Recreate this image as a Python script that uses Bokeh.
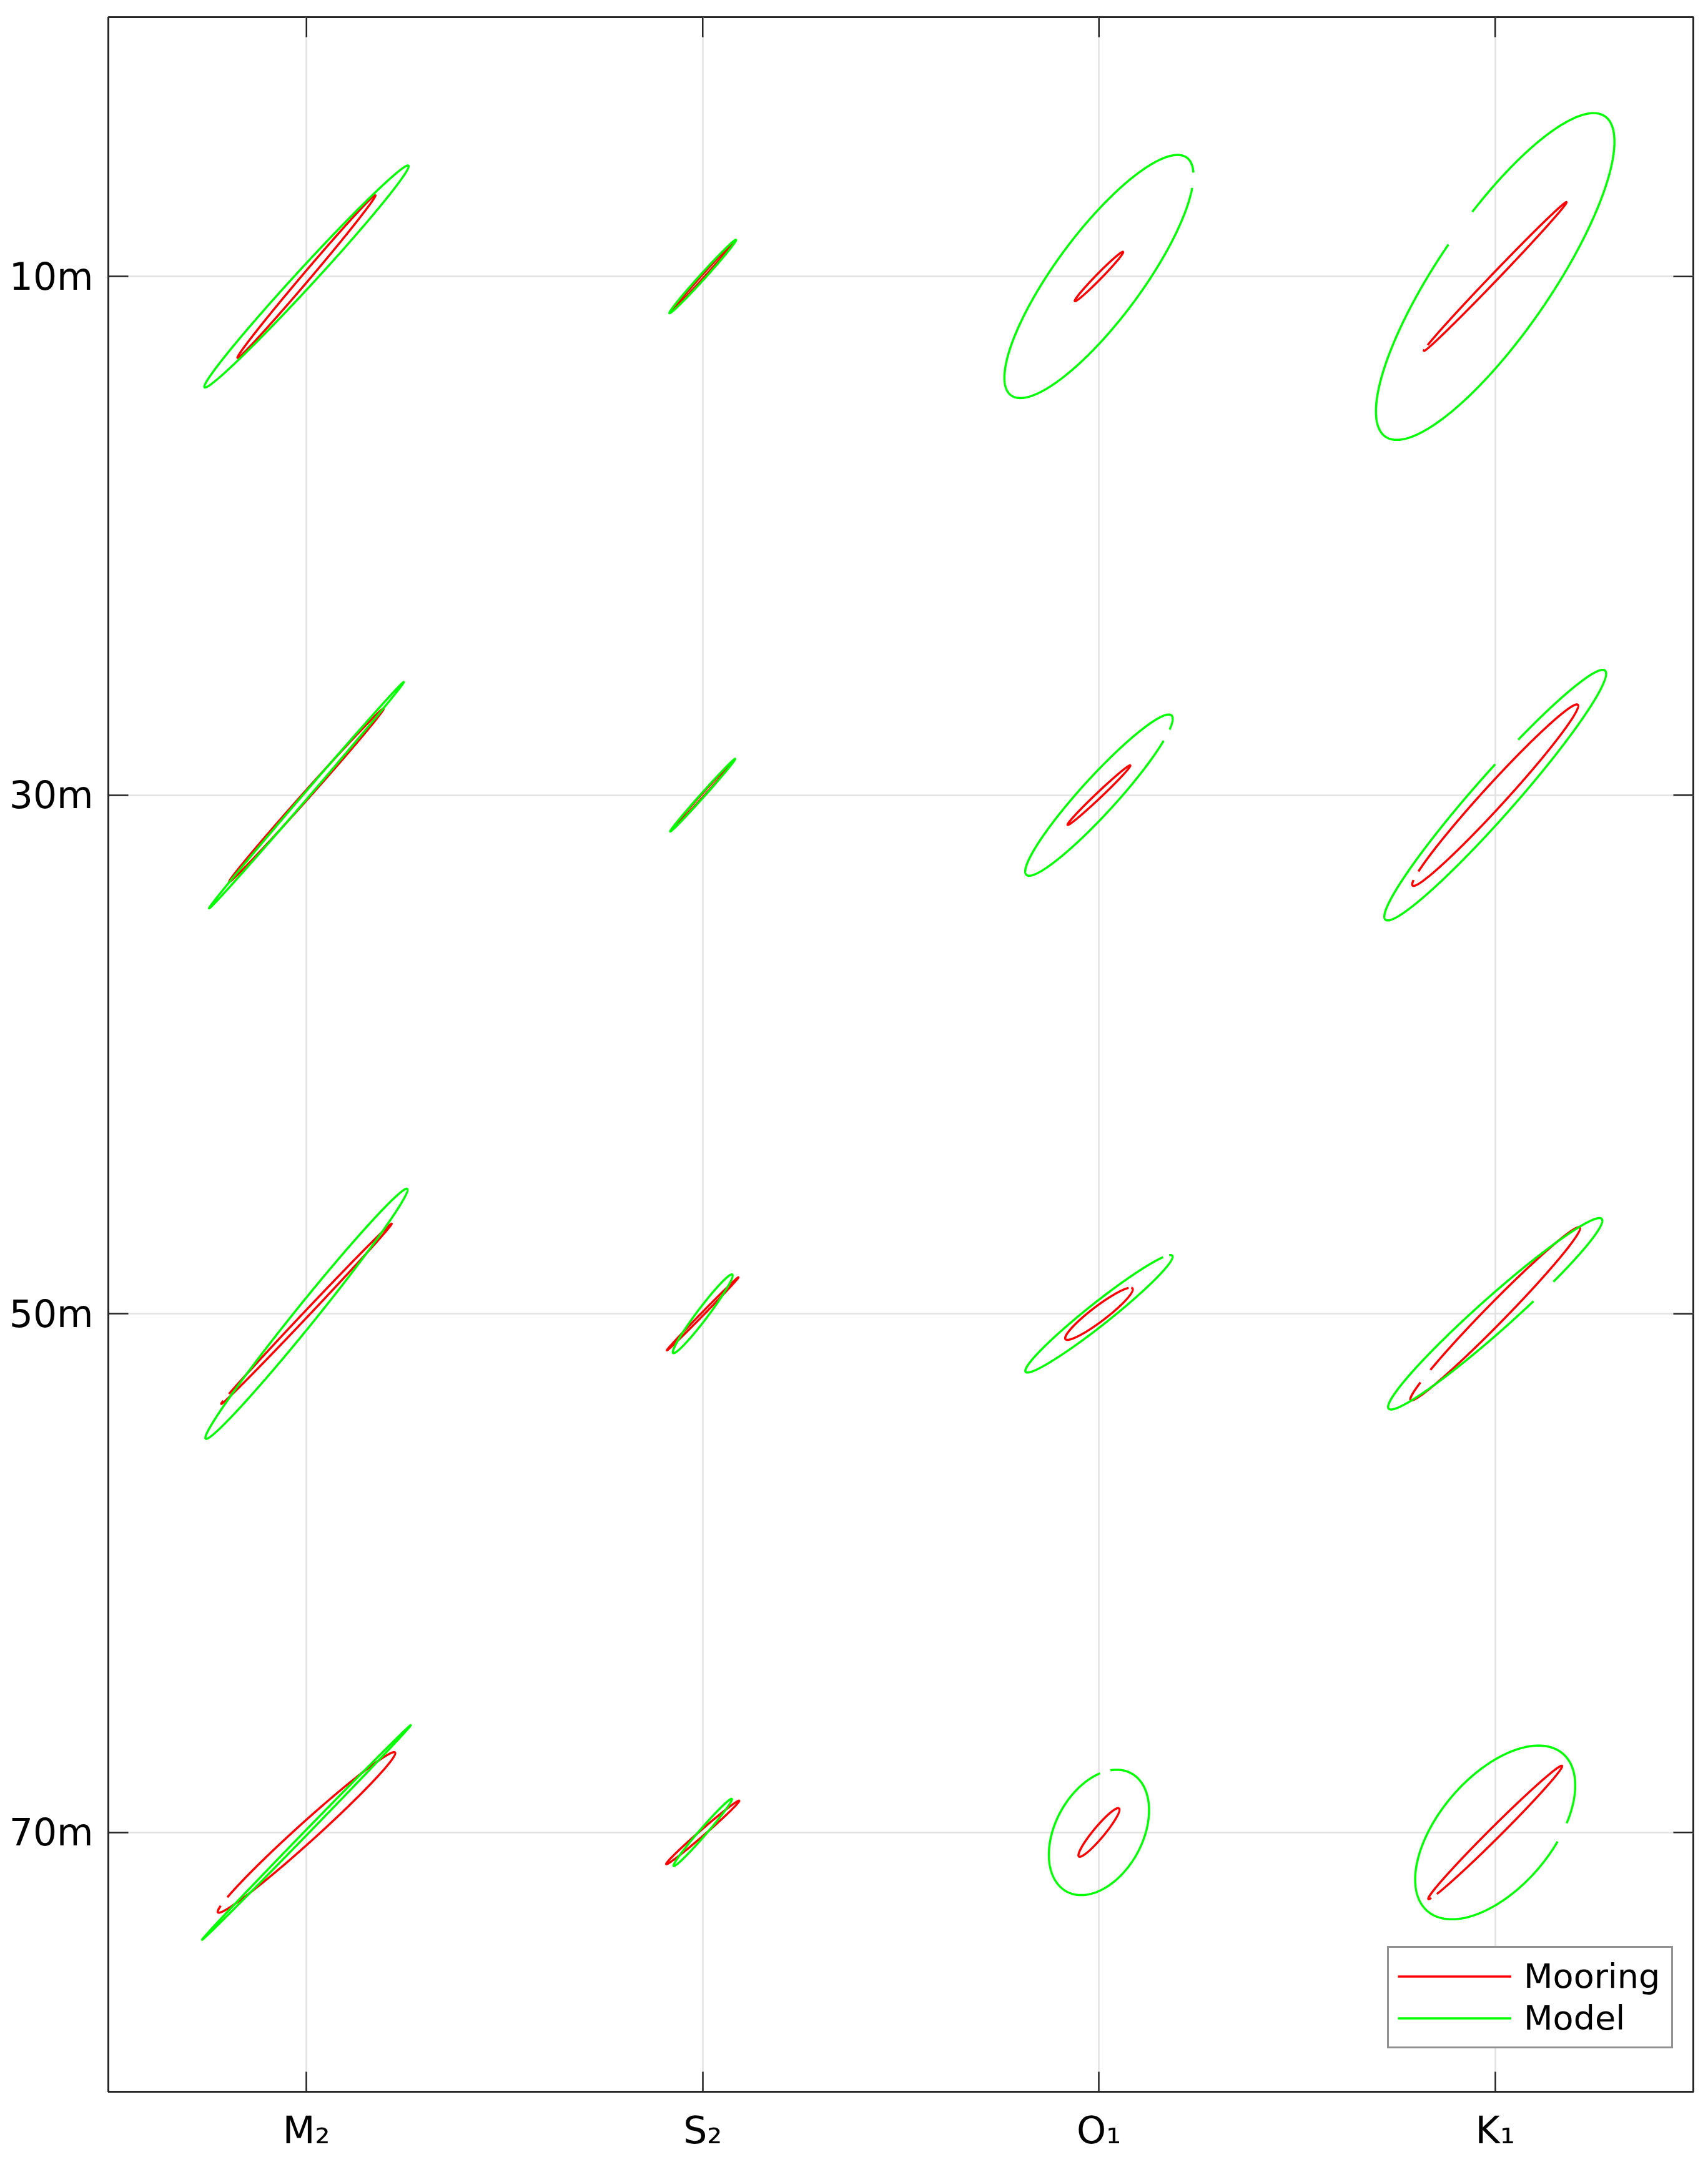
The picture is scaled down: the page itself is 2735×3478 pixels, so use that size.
import numpy as np
from bokeh.plotting import figure
from bokeh.models import Range1d, FixedTicker, Legend, LegendItem
from bokeh.embed import file_html
from bokeh.resources import INLINE

nan = float("nan")

# ---------------- data ----------------
constituents = ["M₂", "S₂", "O₁", "K₁"]
constituent_pos = [1, 2, 3, 4]
depths = [10, 30, 50, 70]
depth_labels = ["10m", "30m", "50m", "70m"]

# rows: depth (10, 30, 50, 70 m); columns: M2, S2, O1, K1
# semi-axes in units of the constituent spacing, inclination in degrees,
# gap_phase = phase (deg) where the drawn ellipse is left open
moor_major = [
    [0.269, 0.115, 0.087, 0.260],
    [0.293, 0.115, 0.109, 0.309],
    [0.313, 0.129, 0.106, 0.305],
    [0.301, 0.122, 0.079, 0.238],
]
moor_minor = [
    [0.010, 0.0035, 0.007, 0.009],
    [0.009, 0.0035, 0.007, 0.028],
    [0.007, 0.0035, 0.019, 0.025],
    [0.024, 0.007, 0.014, 0.014],
]
moor_inc = [
    [49.7, 48.0, 45.6, 46.2],
    [48.3, 48.0, 43.5, 47.6],
    [46.6, 45.6, 37.2, 45.6],
    [42.1, 41.0, 50.2, 44.9],
]
moor_gap_phase = [
    [nan, nan, nan, 165],
    [nan, nan, nan, 158],
    [160, nan, 15, 141],
    [155, nan, nan, 200],
]

model_major = [
    [0.380, 0.125, 0.373, 0.490],
    [0.377, 0.123, 0.272, 0.419],
    [0.405, 0.124, 0.236, 0.360],
    [0.378, 0.112, 0.170, 0.262],
]
model_minor = [
    [0.023, 0.007, 0.109, 0.143],
    [0.007, 0.005, 0.045, 0.052],
    [0.026, 0.014, 0.028, 0.042],
    [0.005, 0.009, 0.110, 0.142],
]
model_inc = [
    [47.4, 47.8, 53.5, 55.6],
    [49.3, 48.2, 47.7, 48.6],
    [51.1, 53.0, 38.4, 41.7],
    [45.8, 49.1, 61.3, 49.3],
]
model_gap_phase = [
    [nan, nan, -25, 84],
    [nan, nan, -33, 76],
    [nan, nan, 18, -69],
    [nan, nan, 33, -65],
]

# ---------------- layout ----------------
W, H = 2719, 3462
BL, BR, BT, BB = 173, 8, 27, 113
FRAME_W = W - BL - BR
FRAME_H = H - BT - BB
X0, X1 = 0.5, 4.5
Y_TOP, Y_BOT = 0, 80
PX_X = FRAME_W / (X1 - X0)
PX_Y = FRAME_H / (Y_BOT - Y_TOP)
K = PX_X / PX_Y  # x-unit -> metres on screen
GAP = 12.0
TICK = 32
AX_COL = "#262626"
LW = 3.5


def ellipse(cx, depth, a, b, inc, gap):
    if np.isnan(gap):
        t = np.radians(np.linspace(0.0, 360.0, 721))
    else:
        t = np.radians(np.linspace(gap + GAP / 2, gap + 360.0 - GAP / 2, 721))
    th = np.radians(inc)
    xo = a * np.cos(t) * np.cos(th) - b * np.sin(t) * np.sin(th)
    yo = a * np.cos(t) * np.sin(th) + b * np.sin(t) * np.cos(th)
    return list(cx + xo), list(depth - yo * K)


def build(major, minor, inc, gaps):
    xs, ys = [], []
    for i, d in enumerate(depths):
        for j, c in enumerate(constituent_pos):
            x, y = ellipse(c, d, major[i][j], minor[i][j], inc[i][j], gaps[i][j])
            xs.append(x)
            ys.append(y)
    return xs, ys


p = figure(width=W, height=H, output_backend="svg", toolbar_location=None,
           x_range=Range1d(X0, X1), y_range=Range1d(Y_BOT, Y_TOP),
           min_border_left=BL, min_border_right=BR, min_border_top=BT, min_border_bottom=BB)
p.background_fill_color = "white"
p.border_fill_color = "white"
p.outline_line_color = AX_COL
p.outline_line_width = 3

# grids
p.xgrid.ticker = FixedTicker(ticks=constituent_pos)
p.ygrid.ticker = FixedTicker(ticks=depths)
for g in (p.xgrid, p.ygrid):
    g.grid_line_color = "#e3e3e3"
    g.grid_line_width = 2.5

mx, my = build(moor_major, moor_minor, moor_inc, moor_gap_phase)
gx, gy = build(model_major, model_minor, model_inc, model_gap_phase)
r_moor = p.multi_line(mx, my, line_color="#ff0000", line_width=LW)
r_model = p.multi_line(gx, gy, line_color="#00ff00", line_width=LW)

# inward ticks on the top and right edges (mirroring the bottom/left axes)
p.segment(x0=constituent_pos, y0=[Y_TOP] * 4, x1=constituent_pos,
          y1=[Y_TOP + TICK / PX_Y] * 4, line_color=AX_COL, line_width=2.5)
p.segment(x0=[X1] * 4, y0=depths, x1=[X1 - TICK / PX_X] * 4, y1=depths,
          line_color=AX_COL, line_width=2.5)

# axes
bottom_ax = p.below[0]
left_ax = p.left[0]
bottom_ax.ticker = FixedTicker(ticks=constituent_pos)
left_ax.ticker = FixedTicker(ticks=depths)
bottom_ax.major_label_overrides = {c: lab for c, lab in zip(constituent_pos, constituents)}
left_ax.major_label_overrides = {d: lab for d, lab in zip(depths, depth_labels)}

for ax in (bottom_ax, left_ax):
    ax.axis_line_color = AX_COL
    ax.axis_line_width = 3
    ax.major_tick_line_color = AX_COL
    ax.major_tick_line_width = 2.5
    ax.major_tick_in = TICK
    ax.major_tick_out = 0
    ax.minor_tick_line_color = None
    ax.major_label_text_font = "DejaVu Sans"
    ax.major_label_text_font_size = "60px"
    ax.major_label_text_color = "black"
bottom_ax.major_label_standoff = 26
left_ax.major_label_standoff = 24

legend = Legend(items=[LegendItem(label="Mooring", renderers=[r_moor]),
                       LegendItem(label="Model", renderers=[r_model])],
                location=(2048, 69))
legend.label_text_font = "DejaVu Sans"
legend.label_text_font_size = "54px"
legend.label_text_color = "black"
legend.glyph_width = 182
legend.glyph_height = 63
legend.label_height = 63
legend.label_width = 222
legend.label_standoff = 20
legend.spacing = 4
legend.padding = 14
legend.margin = 0
legend.border_line_color = AX_COL
legend.border_line_width = 3
legend.background_fill_color = "white"
legend.background_fill_alpha = 1.0
p.add_layout(legend)

open("out.html", "w").write(file_html(p, INLINE))
